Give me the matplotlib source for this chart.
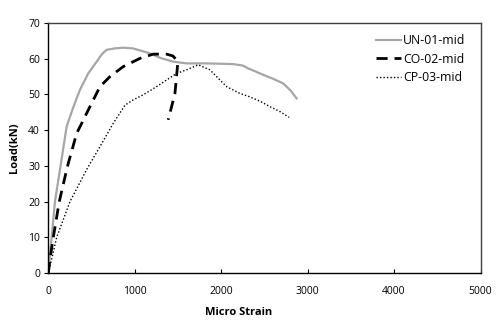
import matplotlib
matplotlib.use("Agg")
import matplotlib.pyplot as plt

plt.rcParams["font.family"] = ["Open Sans", "DejaVu Sans"]

# load vs. mid-span strain for the three specimens
un_strain = [0, 15, 39, 77, 135, 212, 290, 366, 460, 560, 620, 675, 770, 867, 980,
             1080, 1176, 1300, 1445, 1600, 1831, 2000, 2139, 2250, 2312, 2400,
             2486, 2600, 2717, 2800, 2872]
un_load = [0, 4, 10, 20, 28.9, 41, 46.5, 51.3, 55.8, 59.2, 61.3, 62.5, 62.9, 63.1, 62.9,
           62.2, 61.5, 60.2, 59.2, 58.7, 58.7, 58.6, 58.5, 58.1, 57.3, 56.4,
           55.5, 54.4, 53.1, 51.2, 48.9]

co_strain = [0, 20, 58, 127, 212, 231, 328, 386, 482, 598, 713, 867, 1060, 1214,
             1368, 1440, 1484, 1496, 1465, 1420, 1387]
co_load = [0, 4, 10, 20, 28.9, 30.7, 39.1, 41.9, 46.6, 52.2, 55.0, 57.8, 60.1, 61.3,
           61.3, 60.8, 59.7, 58.3, 50.3, 46.0, 42.9]

cp_strain = [0, 40, 97, 251, 444, 598, 751, 887, 983, 1098, 1253, 1484, 1600,
             1734, 1869, 2062, 2216, 2324, 2450, 2563, 2680, 2786]
cp_load = [0, 4, 10, 20, 29.0, 35.4, 41.9, 47.0, 48.5, 49.9, 52.2, 55.9, 56.9,
           58.3, 56.9, 52.2, 50.3, 49.4, 48.1, 46.6, 45.2, 43.6]

x_ticks = [0, 1000, 2000, 3000, 4000, 5000]
y_ticks = [0, 10, 20, 30, 40, 50, 60, 70]

fig = plt.figure(figsize=(5.0, 3.34), dpi=100)
ax = fig.add_axes([0.0966, 0.1826, 0.8644, 0.7484])

ax.plot(un_strain, un_load, color="#a6a6a6", lw=1.6, label="UN-01-mid")
ax.plot(co_strain, co_load, color="black", lw=2.0, ls=(0, (4, 2.5)), label="CO-02-mid")
ax.plot(cp_strain, cp_load, color="black", lw=1.0, ls=(0, (1, 1.5)), label="CP-03-mid")

ax.set_xlim(0, 5000)
ax.set_ylim(0, 70)
ax.set_xticks(x_ticks)
ax.set_yticks(y_ticks)
ax.tick_params(axis="x", direction="in", length=3, labelsize=7.5, pad=9, width=0.8)
ax.tick_params(axis="y", direction="out", length=3, labelsize=7.5, pad=3, width=0.8)

for side in ("left", "bottom"):
    ax.spines[side].set_color("black")
    ax.spines[side].set_linewidth(1.0)
for side in ("top", "right"):
    ax.spines[side].set_color("#404040")
    ax.spines[side].set_linewidth(1.0)

ax.set_xlabel("Micro Strain", fontsize=8, fontweight="bold")
ax.xaxis.set_label_coords(0.44, -0.135)
ax.set_ylabel("Load(kN)", fontsize=8, fontweight="bold", labelpad=6)

ax.legend(loc="upper right", frameon=False, fontsize=8.8, handlelength=2.0,
          handletextpad=0.2, labelspacing=0.45, borderaxespad=0.3,
          bbox_to_anchor=(0.985, 0.99))

fig.savefig("out.png", dpi=100)
